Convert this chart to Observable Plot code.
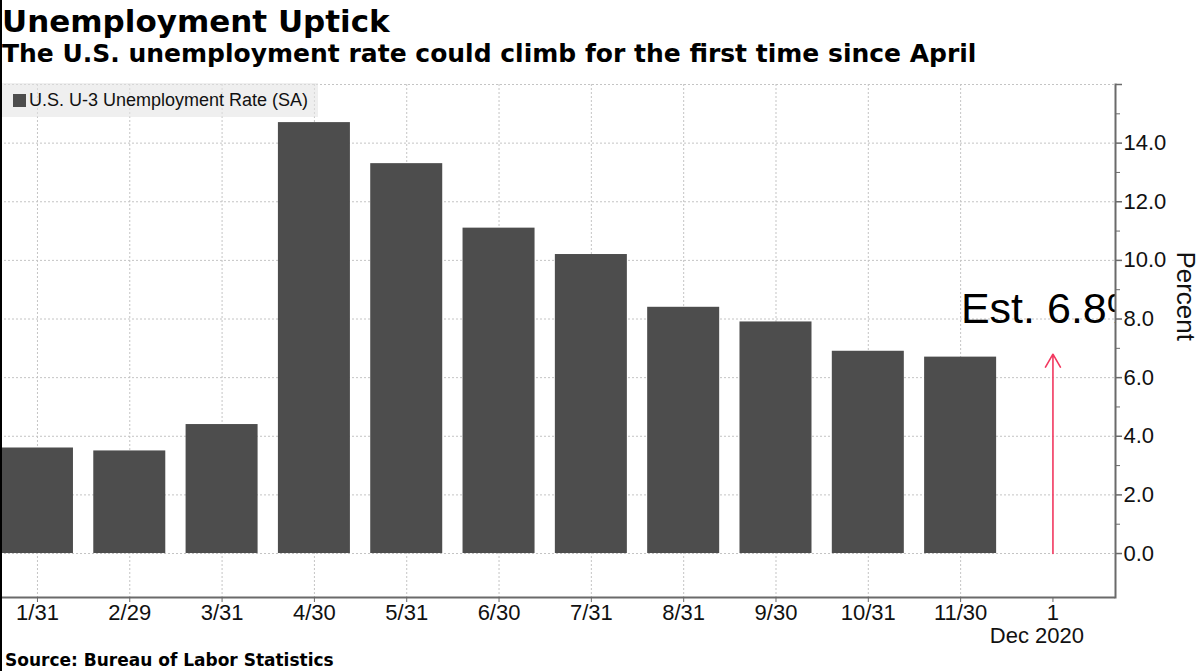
<!DOCTYPE html>
<html>
<head>
<meta charset="utf-8">
<script src="https://cdn.jsdelivr.net/npm/d3@7"></script>
<script src="https://cdn.jsdelivr.net/npm/@observablehq/plot@0.6"></script>
<style>
  body { margin: 0; background: #fff; }
  #wrap { position: relative; width: 1200px; height: 671px; overflow: hidden; background: #fff; }
  #edge { position: absolute; left: 0; top: 0; width: 2px; height: 671px; background: #000; z-index: 5; }
  #title { position: absolute; left: 2px; top: 6px; font: bold 31px/1 "DejaVu Sans", sans-serif; color: #000; white-space: nowrap; }
  #subtitle { position: absolute; left: 2px; top: 41px; font: bold 25px/1 "DejaVu Sans", sans-serif; color: #000; white-space: nowrap; }
  #chart { position: absolute; left: 0; top: 70px; }
  #legend { position: absolute; left: 0; top: 83px; width: 318px; height: 34px; background: rgba(228,228,228,0.6);
            display: flex; align-items: center; font: 18px/1 "Liberation Sans", Arial, sans-serif; color: #111; }
  #legend .sw { width: 13px; height: 13px; background: #4d4d4d; margin-left: 13px; margin-right: 3px; }
  #source { position: absolute; left: 5px; top: 652px; font: bold 17px/1 "DejaVu Sans", sans-serif; color: #000; white-space: nowrap; }
</style>
</head>
<body>
<div id="wrap">
  <div id="edge"></div>
  <div id="title">Unemployment Uptick</div>
  <div id="subtitle">The U.S. unemployment rate could climb for the first time since April</div>
  <div id="chart"></div>
  <div id="legend"><div class="sw"></div><span id="legendText"></span></div>
  <div id="source">Source: Bureau of Labor Statistics</div>
</div>
<script>
// ---- data ----
const dates = ["1/31", "2/29", "3/31", "4/30", "5/31", "6/30", "7/31", "8/31", "9/30", "10/31", "11/30", "1"];
const rates = [3.6, 3.5, 4.4, 14.7, 13.3, 11.1, 10.2, 8.4, 7.9, 6.9, 6.7];
const estimateDate = "1";
const estimateValue = 6.8;
const estimateMonthLabel = "Dec 2020";
const seriesName = "U.S. U-3 Unemployment Rate (SA)";
const yMajorTicks = [0, 2, 4, 6, 8, 10, 12, 14, 16];
const yMinorTicks = [1, 3, 5, 7, 9, 11, 13, 15];
const yAxisLabel = "Percent";

const table = rates.map((r, i) => ({date: dates[i], rate: r}));
const est = [{date: estimateDate, value: estimateValue}];

document.getElementById("legendText").textContent = seriesName;

const gridColor = "#c4c4c4";
const axisColor = "#6a6a6a";

const chart = Plot.plot({
  width: 1200,
  height: 580,
  marginTop: 14,
  marginBottom: 53,
  marginLeft: 0,
  marginRight: 85,
  style: {fontFamily: "'Liberation Sans', Arial, sans-serif", fontSize: "22px", color: "#111", background: "transparent", overflow: "visible"},
  x: {type: "band", domain: dates, range: [-9.2, 1098.6], paddingInner: 0.22, paddingOuter: 0.11, align: 0.5, round: false, label: null},
  y: {domain: [-1.5, 16], label: null},
  marks: [
    Plot.ruleY(yMajorTicks, {stroke: gridColor, strokeDasharray: "2,2"}),
    Plot.ruleX(dates.slice(0, rates.length), {stroke: gridColor, strokeDasharray: "2,2"}),
    Plot.barY(table, {x: "date", y: "rate", fill: "#4d4d4d"}),
    Plot.arrow(est, {x1: "date", x2: "date", y1: () => 0, y2: "value", stroke: "#f2385f", strokeWidth: 1.6, headLength: 14}),
    Plot.text(est, {x: "date", y: "value", text: d => `Est. ${d.value}%`, dx: -92, dy: -31, textAnchor: "start", lineAnchor: "bottom",
                    fontSize: 43, fill: "#000", clip: true}),
    Plot.ruleY([-1.5], {stroke: axisColor, strokeWidth: 2}),
    Plot.frame({anchor: "right", stroke: axisColor, strokeWidth: 2}),
    Plot.axisY(yMajorTicks, {anchor: "right", tickSize: 6, tickPadding: 2, stroke: axisColor, strokeWidth: 1.5,
                             tickFormat: d => d === 16 ? "" : d.toFixed(1), fontSize: 22, fill: "#111", label: null}),
    Plot.axisY(yMinorTicks, {anchor: "right", tickSize: 4, stroke: axisColor, tickFormat: () => "", label: null}),
    Plot.text([yAxisLabel], {text: d => d, frameAnchor: "right", dx: 70, rotate: 90, fontSize: 26, fill: "#111"}),
    Plot.axisX({tickSize: 5, tickPadding: 2, stroke: axisColor, fontSize: 22, fill: "#111", label: null}),
    Plot.text(est, {x: "date", text: () => estimateMonthLabel, frameAnchor: "bottom", dx: -16, dy: 45, lineAnchor: "bottom", fontSize: 22, fill: "#111"})
  ]
});
document.getElementById("chart").appendChild(chart);
</script>
</body>
</html>
